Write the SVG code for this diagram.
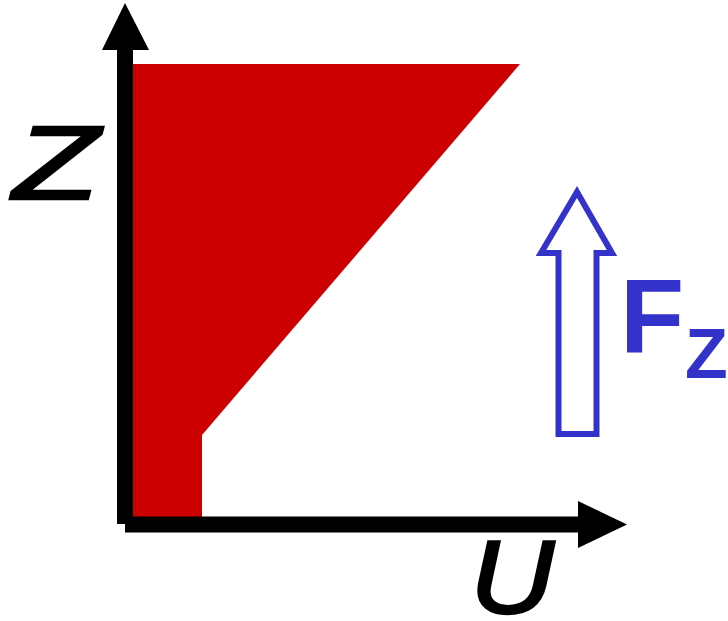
<svg xmlns="http://www.w3.org/2000/svg" width="728" height="621" viewBox="0 0 728 621">
<style>
.ax{stroke:#000;stroke-width:16;fill:none}
.head{fill:#000}
.lbl{font-family:"Liberation Sans",Arial,sans-serif;font-style:italic;font-size:104px;fill:#000;stroke:#000;stroke-width:2.5}
.f{font-family:"Liberation Sans",Arial,sans-serif;font-weight:bold;fill:#3333cc}
</style>
<rect width="728" height="621" fill="#fff"/>
<g id="region">
<polygon points="133,64 520,64 202,435 202,517 133,517" fill="#cc0000"/>
</g>
<g id="connectors">
<line class="ax" x1="125" y1="524" x2="125" y2="49"/>
<polygon class="head" points="125,3 149,50 102,50"/>
<line class="ax" x1="125" y1="524.5" x2="579" y2="524.5"/>
<polygon class="head" points="627,524.5 578,501 578,548"/>
</g>
<g id="force">
<polygon points="577,192 612,253 596.5,253 596.5,434 558.5,434 558.5,253 541,253" fill="none" stroke="#3333cc" stroke-width="6"/>
<text class="f" x="620" y="353" font-size="105">F</text>
<text class="f" x="685" y="378" font-size="70">Z</text>
</g>
<g id="labels">
<text class="lbl" x="13" y="199" textLength="86" lengthAdjust="spacingAndGlyphs">Z</text>
<text class="lbl" x="470" y="613" textLength="84" lengthAdjust="spacingAndGlyphs">U</text>
</g>
</svg>
